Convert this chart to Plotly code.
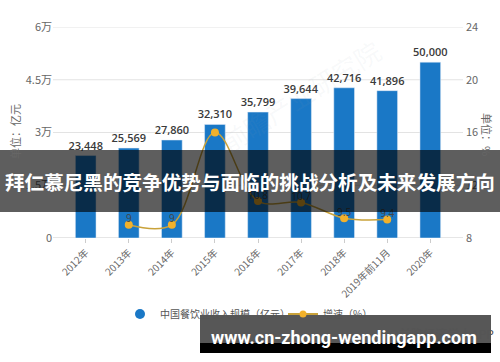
import plotly.graph_objects as go

categories = ["2012年", "2013年", "2014年", "2015年", "2016年", "2017年", "2018年", "2019年前11月", "2020年"]
revenue = [23448, 25569, 27860, 32310, 35799, 39644, 42716, 41896, 50000]
growth = [None, 9.0, 9.0, 16.0, 10.8, 10.7, 9.5, 9.4, None]
growth_labels = ["", "9", "9", "", "10.8", "10.7", "9.5", "9.4", ""]
left_ticks = [0, 15000, 30000, 45000, 60000]
left_ticktext = ["0", "1.5万", "3万", "4.5万", "6万"]
right_ticks = [8, 12, 16, 20, 24]

W, H = 500, 362
PL, PR, PT, PB = 61, 455, 27, 238


def px(x):
    return x / W


def py(y):
    return 1 - y / H


BLUE = "#1a78c6"
GOLD = "#c9a23a"
MK = "#f2b12b"
FONT = "Noto Sans CJK SC"

fig = go.Figure()
fig.add_trace(go.Bar(
    x=categories, y=revenue, marker_color=BLUE, width=0.48,
    text=[f"{v:,}" for v in revenue], textposition="outside", constraintext="none",
    textfont=dict(size=11, color="#3a3a3a", family="Open Sans", weight=600), cliponaxis=False,
    showlegend=False, hoverinfo="skip"))
fig.add_trace(go.Scatter(
    x=categories, y=growth, yaxis="y2", mode="lines+markers",
    line=dict(color=GOLD, width=1.5, shape="spline", smoothing=1),
    marker=dict(color=MK, size=8), cliponaxis=False,
    showlegend=False, hoverinfo="skip"))
fig.add_trace(go.Scatter(
    x=categories, y=growth, yaxis="y2", mode="text",
    text=growth_labels, textposition="top center",
    textfont=dict(size=10, color="#444", family="Open Sans"), cliponaxis=False,
    showlegend=False, hoverinfo="skip"))
fig.add_trace(go.Scatter(x=[None], y=[None], mode="markers",
                         marker=dict(color=BLUE, size=10, symbol="circle"),
                         name="中国餐饮业收入规模（亿元）"))
fig.add_trace(go.Scatter(x=[None], y=[None], mode="lines+markers", yaxis="y2",
                         line=dict(color=GOLD, width=2), marker=dict(color=MK, size=7),
                         name="增速（%）"))

shapes = []
for v in left_ticks:
    shapes.append(dict(type="line", xref="paper", yref="y", x0=px(53), x1=px(463), y0=v, y1=v,
                       line=dict(color="#e3e3e3" if v else "#cccccc", width=1), layer="below"))
# dark banner across the chart
shapes.append(dict(type="rect", xref="paper", yref="paper", x0=0, x1=1, y0=py(212), y1=py(150),
                   fillcolor="rgba(0,0,0,0.63)", line=dict(width=0), layer="above"))
# bottom url box
shapes.append(dict(type="rect", xref="paper", yref="paper", x0=px(200), x1=px(491), y0=py(343), y1=py(315),
                   fillcolor="rgba(0,0,0,0.66)", line=dict(width=0), layer="above"))
shapes.append(dict(type="rect", xref="paper", yref="paper", x0=px(200), x1=px(491), y0=py(353), y1=py(343),
                   fillcolor="#000000", line=dict(width=0), layer="above"))


def ann(text, x, y, size, color, family=FONT, angle=0, xanchor="center"):
    return dict(text=text, x=px(x), y=py(y), xref="paper", yref="paper", showarrow=False,
                xanchor=xanchor, yanchor="middle", textangle=angle,
                font=dict(size=size, color=color, family=family))


annotations = [
    ann("单位：亿元", 15, 132, 11, "#666", angle=-90),
    ann("单位：%", 487, 134, 11, "#666", angle=90),
    ann("前瞻产业研究院", 300, 95, 26, "rgba(150,160,175,0.07)", angle=-32),
    ann("@前瞻经济学人APP", 496, 333, 12, "#555", xanchor="right"),
    ann("<b>拜仁慕尼黑的竞争优势与面临的挑战分析及未来发展方向</b>", 250, 181, 19.6, "white"),
    ann("<b>www.cn-zhong-wendingapp.com</b>", 344, 337, 18, "white", family="Roboto"),
]

fig.update_layout(
    width=W, height=H, margin=dict(l=0, r=0, t=0, b=0, autoexpand=False),
    paper_bgcolor="white", plot_bgcolor="white",
    font=dict(family=FONT, color="#666", size=10),
    bargap=0.5,
    xaxis=dict(type="category", domain=[px(PL), px(PR)], tickangle=-45,
               tickfont=dict(size=10, color="#666"), automargin=False,
               showgrid=False, showline=False, ticks="outside", ticklen=4, tickcolor="#ccc"),
    yaxis=dict(range=[0, 60000], domain=[py(PB), py(PT)], tickvals=left_ticks, ticktext=left_ticktext,
               showgrid=False, automargin=False,
               zeroline=False, tickfont=dict(size=11, color="#666"), ticks="", ticklabelstandoff=8),
    yaxis2=dict(range=[8, 24], tickvals=right_ticks, overlaying="y", side="right", showgrid=False,
                automargin=False,
                zeroline=False, tickfont=dict(size=11, color="#666"), ticklabelstandoff=10),
    legend=dict(orientation="h", x=px(120), xanchor="left", y=py(314), yanchor="middle",
                bgcolor="rgba(0,0,0,0)", font=dict(size=10, color="#555", family=FONT),
                entrywidth=118, entrywidthmode="pixels"),
    shapes=shapes, annotations=annotations,
)

fig.write_html("out.html")
